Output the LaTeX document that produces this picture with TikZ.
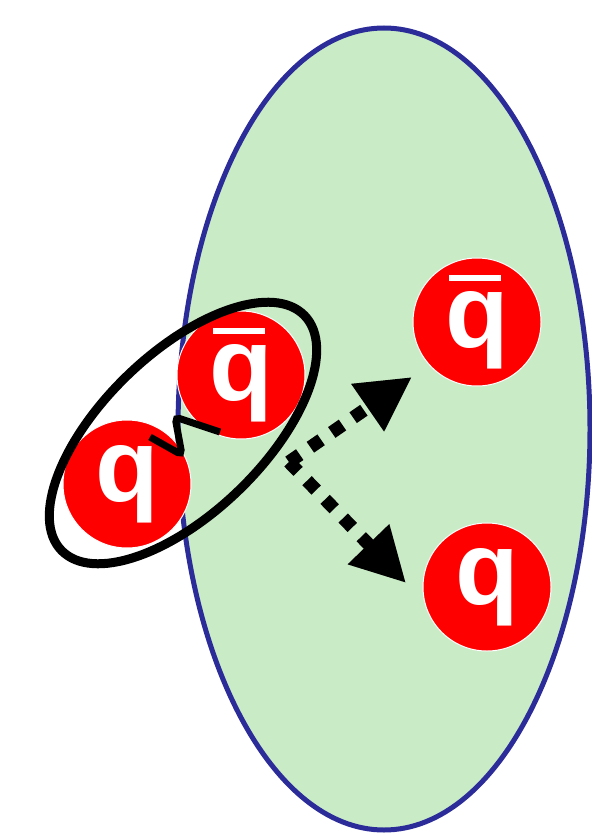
\documentclass[tikz,border=0pt]{standalone}
\usepackage{fontspec}
\setmainfont{Liberation Sans}
\usetikzlibrary{arrows.meta}
\definecolor{bgreen}{HTML}{C9EBC6}
\definecolor{bblue}{HTML}{2B2B99}
\definecolor{qred}{HTML}{FF0000}
\tikzset{
  quark/.style={circle, fill=qred, draw=white, line width=1pt, minimum size=128pt,
    inner sep=0pt, text=white, font=\fontsize{104}{104}\bfseries\selectfont},
  dotarrow/.style={line width=13pt, dash pattern=on 13pt off 13pt,
    -{Triangle[length=54pt,width=54pt]}},
  dotshadow/.style={dotarrow, black, opacity=0.2},
}
\newcommand{\qbarsym}{\rlap{\kern0.04em\raisebox{0.64em}{\rule{0.5em}{0.055em}}}q}
\begin{document}
\begin{tikzpicture}[x=1pt,y=-1pt]
\useasboundingbox (0,0) rectangle (591,837);
% big ellipse
\draw[bblue, fill=bgreen, line width=5pt] (384,429) ellipse [x radius=206, y radius=401];
% quarks
\node[quark] (qL) at (127,484) {q};
\node[quark] (qbL) at (241,375) {\qbarsym};
\node[quark] (qbR) at (477,322) {\qbarsym};
\node[quark] (qR) at (487,587) {q};
% binding ellipse
\draw[line width=9pt, rotate around={44:(183,433)}] (183,433) ellipse [x radius=169, y radius=80];
% gluon
\draw[line width=7pt, rounded corners=5pt] (150,437) -- (182,455) -- (175,417) -- (220,432);
% arrows
\coordinate (src) at (289,462);
\coordinate (tipU) at (412,377);
\coordinate (tipD) at (406,583);
\begin{scope}[shift={(3,5)}]
  \draw[dotshadow] (src) -- (tipU);
  \draw[dotshadow] (src) -- (tipD);
\end{scope}
\draw[dotarrow] (src) -- (tipU);
\draw[dotarrow] (src) -- (tipD);
\end{tikzpicture}
\end{document}
